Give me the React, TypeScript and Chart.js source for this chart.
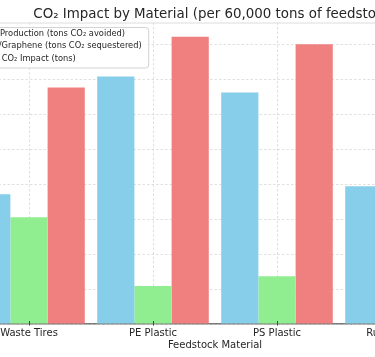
import React, { useEffect, useRef } from 'react';
import { Chart, registerables } from 'chart.js';

Chart.register(...registerables);

const categories = ['Waste Tires', 'PE Plastic', 'PS Plastic', 'Rubber Waste'];
const hydrogenAvoided = [74300, 141700, 132600, 78900];
const carbonSequestered = [61100, 21700, 27400, 52000];
const netImpact = [135400, 164500, 160300, 130900];
const seriesLabels = [
  'Hydrogen Production (tons CO₂ avoided)',
  'Biocarbon/Graphene (tons CO₂ sequestered)',
  'Combined CO₂ Impact (tons)',
];
const seriesColors = ['#87CEEB', '#90EE90', '#F08080'];
const yTicks = [0, 20000, 40000, 60000, 80000, 100000, 120000, 140000, 160000];
const yMax = 172700;
const titleText = 'CO₂ Impact by Material (per 60,000 tons of feedstock)';
const xTitle = 'Feedstock Material';
const yTitle = 'CO₂ Impact (tons)';

const FONT = "'DejaVu Sans', sans-serif";

const decorations = {
  id: 'decorations',
  beforeDatasetsDraw(chart: any) {
    const ctx = chart.ctx as CanvasRenderingContext2D;
    const area = chart.chartArea;
    ctx.save();
    ctx.strokeStyle = '#dcdcdc';
    ctx.lineWidth = 1;
    ctx.beginPath();
    ctx.moveTo(area.left, area.top + 0.5);
    ctx.lineTo(area.right, area.top + 0.5);
    ctx.stroke();
    ctx.restore();
  },
  afterDraw(chart: any) {
    const ctx = chart.ctx as CanvasRenderingContext2D;
    const area = chart.chartArea;
    const xs = chart.scales.x;
    const x0 = xs.getPixelForValue(0);
    ctx.save();
    ctx.strokeStyle = '#444';
    ctx.lineWidth = 1;
    categories.forEach((_, i) => {
      const px = Math.round(xs.getPixelForValue(i)) + 0.5;
      ctx.beginPath();
      ctx.moveTo(px, area.bottom - 3);
      ctx.lineTo(px, area.bottom + 1.5);
      ctx.stroke();
    });
    ctx.font = `13.4px ${FONT}`;
    ctx.fillStyle = '#262626';
    ctx.textAlign = 'left';
    ctx.textBaseline = 'alphabetic';
    ctx.fillText(titleText, x0 + 4.3, 18.3);
    const fs = 8.3;
    ctx.font = `${fs}px ${FONT}`;
    const textStart = x0 - 72;
    const widths = seriesLabels.map((l) => ctx.measureText(l).width);
    const maxW = Math.max(...widths);
    const top = area.top + 4.5;
    const bottom = top + 40.5;
    const right = textStart + maxW + 6.5;
    const left = textStart - fs * 3.2;
    ctx.fillStyle = 'rgba(255,255,255,0.85)';
    ctx.strokeStyle = '#d3d3d3';
    ctx.lineWidth = 1;
    ctx.beginPath();
    (ctx as any).roundRect(left + 0.5, top + 0.5, right - left, bottom - top, 3);
    ctx.fill();
    ctx.stroke();
    const rows = [top + 7, top + 19.3, top + 31.6];
    seriesLabels.forEach((label, i) => {
      ctx.fillStyle = seriesColors[i];
      ctx.fillRect(textStart - fs * 2.8, rows[i] - fs * 0.35, fs * 2, fs * 0.7);
      ctx.fillStyle = '#1f1f1f';
      ctx.textBaseline = 'middle';
      ctx.textAlign = 'left';
      ctx.fillText(label, textStart, rows[i]);
    });
    ctx.restore();
  },
};

export default function App() {
  const ref = useRef<HTMLCanvasElement>(null);
  useEffect(() => {
    if (!ref.current) return;
    const chart = new Chart(ref.current, {
      type: 'bar',
      data: {
        labels: categories,
        datasets: [
          { label: seriesLabels[0], data: hydrogenAvoided, backgroundColor: seriesColors[0] },
          { label: seriesLabels[1], data: carbonSequestered, backgroundColor: seriesColors[1] },
          { label: seriesLabels[2], data: netImpact, backgroundColor: seriesColors[2] },
        ],
      },
      options: {
        responsive: false,
        animation: false,
        devicePixelRatio: 1,
        layout: { padding: { left: 67, right: 37, top: 22.5, bottom: 0 } },
        datasets: { bar: { categoryPercentage: 0.9, barPercentage: 1, borderWidth: 0 } } as any,
        plugins: {
          legend: { display: false },
          tooltip: { enabled: false },
          title: { display: false },
        },
        scales: {
          x: {
            grid: {
              display: true,
              offset: false,
              color: 'rgba(200,200,200,0.7)',
              lineWidth: 0.8,
              drawTicks: false,
            } as any,
            border: { display: true, color: '#7a7a7a', width: 1.5, dash: [2.5, 2] },
            ticks: { color: '#262626', font: { family: FONT, size: 10 }, padding: 3.5 },
            title: {
              display: true,
              text: xTitle,
              color: '#262626',
              font: { family: FONT, size: 10 },
              padding: { top: 1, bottom: 6 },
            },
            afterFit: (s: any) => {
              s.height = 33;
            },
          } as any,
          y: {
            min: 0,
            max: yMax,
            grid: { display: true, color: 'rgba(200,200,200,0.7)', lineWidth: 0.8, drawTicks: false },
            border: { display: false, dash: [2.5, 2] },
            ticks: { display: false },
            title: { display: false, text: yTitle },
            afterBuildTicks: (s: any) => {
              s.ticks = yTicks.map((v) => ({ value: v }));
            },
            afterFit: (s: any) => {
              s.width = 0;
            },
          } as any,
        },
      },
      plugins: [decorations],
    });
    return () => chart.destroy();
  }, []);
  return (
    <div
      style={{
        position: 'fixed',
        left: 0,
        top: 0,
        width: 375,
        height: 357,
        overflow: 'hidden',
        background: '#fff',
      }}
    >
      <canvas
        ref={ref}
        width={600}
        height={357}
        style={{ position: 'absolute', left: -100, top: 0, width: 600, height: 357 }}
      />
    </div>
  );
}
